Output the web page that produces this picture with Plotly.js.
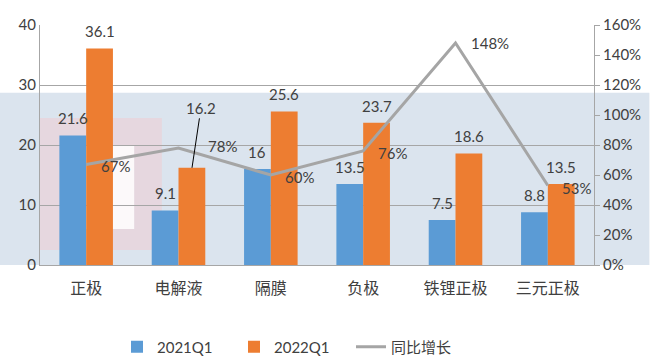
<!DOCTYPE html>
<html><head><meta charset="utf-8">
<script src="https://cdn.plot.ly/plotly-3.0.1.min.js"></script>
<style>html,body{margin:0;padding:0;background:#fff}#c{width:650px;height:361px}</style>
</head><body><div id="c"></div>
<script>
const categories = ['正极','电解液','隔膜','负极','铁锂正极','三元正极'];
const v2021 = [21.6, 9.1, 16, 13.5, 7.5, 8.8];
const v2022 = [36.1, 16.2, 25.6, 23.7, 18.6, 13.5];
const growth = [0.67, 0.78, 0.60, 0.76, 1.48, 0.53];
const growthLabels = ['67%','78%','60%','76%','148%','53%'];

const numFont = {family:'Lato, "Noto Sans CJK SC", sans-serif', size:15, color:'#404040'};
const cjk = {family:'"Noto Sans CJK SC", sans-serif', size:15, color:'#404040'};

const traces = [
  {type:'bar', name:'2021Q1', x:categories, y:v2021, marker:{color:'#5B9BD5'}, hoverinfo:'skip'},
  {type:'bar', name:'2022Q1', x:categories, y:v2022, marker:{color:'#ED7D31'}, hoverinfo:'skip'},
  {type:'scatter', mode:'lines', name:'同比增长', x:categories, y:growth, yaxis:'y2',
   line:{color:'#A5A5A5', width:3}, hoverinfo:'skip'}
];

const ann = [];
categories.forEach((c,i)=>{
  ann.push({x:c, y:v2021[i], xref:'x', yref:'y', text:String(v2021[i]), showarrow:false,
    xshift:-13.5, yshift:17, yanchor:'middle', font:numFont});
  if (i === 1) {
    ann.push({x:c, y:v2022[i], xref:'x', yref:'y', text:String(v2022[i]), showarrow:true,
      arrowhead:0, arrowwidth:1, arrowcolor:'#000', ax:9, ay:-60, xshift:13.5, font:numFont, standoff:0});
  } else {
    ann.push({x:c, y:v2022[i], xref:'x', yref:'y', text:String(v2022[i]), showarrow:false,
      xshift:13.5, yshift:17, yanchor:'middle', font:numFont});
  }
});
const gshift = [29, 44, 29, 29, 34, 29];
const gy = [-1, 2, -2, -2, 0, -2];
categories.forEach((c,i)=>{
  ann.push({x:c, y:growth[i], xref:'x', yref:'y2', text:growthLabels[i], showarrow:false,
    xshift:gshift[i], yshift:gy[i], font:numFont});
});

const layout = {
  width:650, height:361,
  margin:{l:40, r:56, t:25, b:96},
  paper_bgcolor:'#fff', plot_bgcolor:'rgba(0,0,0,0)',
  barmode:'group', bargap:0.42, bargroupgap:0,
  font:cjk,
  showlegend:true,
  legend:{orientation:'h', xref:'container', yref:'container', x:0.18, xanchor:'left', y:0.039, yanchor:'middle', font:numFont,
    traceorder:'normal', itemwidth:30, entrywidth:72},
  xaxis:{type:'category', automargin:false, showline:true, linecolor:'#a6a6a6', linewidth:1, ticks:'', ticklabelstandoff:9,
    tickfont:{family:'"Noto Sans CJK SC", sans-serif', size:16, color:'#404040'}, fixedrange:true},
  yaxis:{range:[0,40], dtick:10, automargin:false, showgrid:true, gridcolor:'#a6a6a6', gridwidth:1, showline:true, linecolor:'#a6a6a6', zeroline:false,
    tickfont:numFont, ticks:'', ticklen:0},
  yaxis2:{overlaying:'y', side:'right', automargin:false, range:[0,1.6], dtick:0.2, tickformat:'.0%', showgrid:false, zeroline:false,
    showline:true, linecolor:'#a6a6a6', ticks:'outside', ticklen:5, tickcolor:'#a6a6a6', tickfont:numFont},
  shapes:[
    {type:'rect', layer:'below', xref:'paper', yref:'y', x0:-0.08, x1:1.1, y0:0, y1:28.7,
      fillcolor:'#dbe4ee', line:{width:0}},
    {type:'rect', layer:'below', xref:'paper', yref:'y', x0:0.0, x1:0.22, y0:2.5, y1:24.5,
      fillcolor:'rgba(245,200,205,0.45)', line:{width:0}},
    {type:'rect', layer:'below', xref:'paper', yref:'y', x0:0.05, x1:0.17, y0:6, y1:20,
      fillcolor:'rgba(255,255,255,0.85)', line:{width:0}}
  ],
  annotations:ann
};
Plotly.newPlot('c', traces, layout, {displayModeBar:false, staticPlot:true});
</script></body></html>
